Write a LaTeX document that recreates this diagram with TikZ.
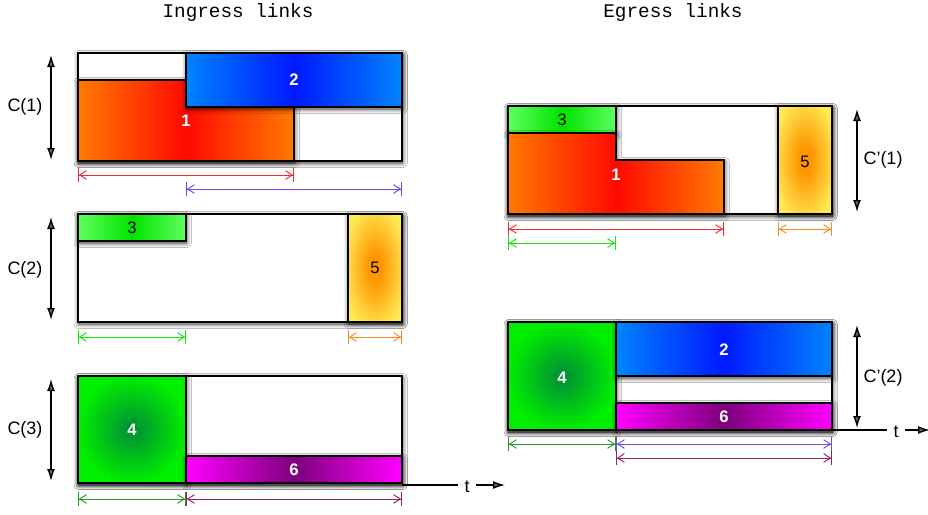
\documentclass[tikz,border=0pt]{standalone}
\usepackage{fontspec}
\setmainfont{Liberation Sans}
\newfontfamily\monofam{Liberation Mono}
\usetikzlibrary{positioning, arrows.meta, shadows.blur}

\definecolor{pktorange}{RGB}{255,122,0}
\definecolor{pktred}{RGB}{255,10,0}
\definecolor{pktsky}{RGB}{0,132,255}
\definecolor{pktblue}{RGB}{0,25,255}
\definecolor{pktlime}{RGB}{95,255,95}
\definecolor{pktgreen}{RGB}{0,228,0}
\definecolor{pktyellow}{RGB}{255,234,85}
\definecolor{pktamber}{RGB}{255,150,0}
\definecolor{pktleaf}{RGB}{0,238,0}
\definecolor{pktforest}{RGB}{0,140,55}
\definecolor{pktpink}{RGB}{255,0,255}
\definecolor{pktplum}{RGB}{125,0,125}
\definecolor{spanred}{RGB}{235,45,45}
\definecolor{spanblue}{RGB}{105,70,255}
\definecolor{spangreen}{RGB}{20,230,20}
\definecolor{spanorange}{RGB}{245,140,40}
\definecolor{spanforest}{RGB}{40,150,40}
\definecolor{spanplum}{RGB}{150,35,95}

\pgfdeclareradialshading{amberglow}{\pgfpoint{0bp}{0bp}}{color(0bp)=(pktamber); color(6bp)=(pktamber); color(30bp)=(pktyellow); color(50bp)=(pktyellow)}
\pgfdeclareradialshading{leafglow}{\pgfpoint{0bp}{0bp}}{color(0bp)=(pktforest); color(25bp)=(pktleaf); color(50bp)=(pktleaf)}

\tikzset{
  slot/.style={draw=black, line width=1pt, fill=white,
    blur shadow={shadow xshift=0.5pt, shadow yshift=-1.5pt, shadow blur radius=3.5pt, shadow opacity=80}},
  pkt/.style={draw=black, line width=1pt,
    blur shadow={shadow xshift=0.5pt, shadow yshift=-1.5pt, shadow blur radius=3.5pt, shadow opacity=80}},
  flowA/.style={pkt, left color=pktorange, right color=pktorange, middle color=pktred},
  flowB/.style={pkt, left color=pktsky, right color=pktsky, middle color=pktblue},
  flowC/.style={pkt, left color=pktlime, right color=pktlime, middle color=pktgreen},
  flowD/.style={pkt, shading=leafglow},
  flowE/.style={pkt, shading=amberglow},
  flowF/.style={pkt, left color=pktpink, right color=pktpink, middle color=pktplum},
  num/.style={font=\fontsize{12.5}{15}\selectfont\bfseries, text=white},
  numdark/.style={font=\fontsize{12.5}{15}\selectfont, text=black},
  linklabel/.style={font=\fontsize{13.5}{16}\selectfont},
  title/.style={font=\monofam\fontsize{14.5}{17}\selectfont},
  span/.style={line width=0.7pt,
    {Bar[width=10.5pt]Straight Barb[length=5pt,width=6.5pt]}-{Straight Barb[length=5pt,width=6.5pt]Bar[width=10.5pt]}},
  tall/.style={line width=1pt, {Latex[length=9pt,width=6pt]}-{Latex[length=9pt,width=6pt]}},
}

\begin{document}
\begin{tikzpicture}[x=0.75pt, y=-0.75pt]
  \useasboundingbox[fill=white] (0,0) rectangle (928,514);

  \node[title] (ingress) at (238,12) {Ingress links};
  \node[title] (egress) at (673,12) {Egress links};

  % ingress link 1
  \draw[slot] (78,53) rectangle (402,161);
  \draw[flowA] (78,80) rectangle (294,161);
  \draw[flowB] (186,53) rectangle (402,107);
  \node[num] (i1p1) at (186,121) {1};
  \node[num] (i1p2) at (294,80) {2};
  \draw[span, spanred] (78,175) -- (294,175);
  \draw[span, spanblue] (186,189) -- (402,189);
  \draw[tall] (51,55) -- (51,160);
  \node[linklabel] (c1) at (25,107) {C(1)};

  % ingress link 2
  \draw[slot] (78,214) rectangle (402,322);
  \draw[flowC] (78,214) rectangle (186,241);
  \draw[flowE] (348,214) rectangle (402,322);
  \node[numdark] (i2p3) at (132,228) {3};
  \node[numdark] (i2p5) at (375,268) {5};
  \draw[span, spangreen] (78,337) -- (186,337);
  \draw[span, spanorange] (348,337) -- (402,337);
  \draw[tall] (51,217) -- (51,320);
  \node[linklabel] (c2) at (25,270) {C(2)};

  % ingress link 3
  \draw[slot] (78,376) rectangle (402,483);
  \draw[flowD] (78,376) rectangle (186,483);
  \draw[flowF] (186,456) rectangle (402,483);
  \node[num] (i3p4) at (132,430) {4};
  \node[num] (i3p6) at (294,470) {6};
  \draw[span, spanforest] (78,499) -- (186,499);
  \draw[span, spanplum] (186,499) -- (402,499);
  \draw[tall] (51,379) -- (51,481);
  \node[linklabel] (c3) at (25,430) {C(3)};
  \coordinate (i3end) at (402,485);
  \node[linklabel, inner sep=5pt] (ti) at (467,487) {t};
  \coordinate (tiend) at (505,485);
  \draw[line width=0.8pt] (i3end) -- (i3end -| ti.west);
  \draw[line width=1pt, -{Latex[length=9pt,width=6pt]}] (i3end -| ti.east) -- (tiend);

  % egress link 1
  \draw[slot] (508,106) rectangle (832,214);
  \draw[flowE] (778,106) rectangle (832,214);
  \draw[flowC] (508,106) rectangle (616,133);
  \draw[flowA] (508,133) -- (616,133) -- (616,160) -- (724,160) -- (724,214) -- (508,214) -- cycle;
  \node[numdark] (e1p3) at (562,120) {3};
  \node[num] (e1p1) at (616,175) {1};
  \node[numdark] (e1p5) at (805,162) {5};
  \draw[span, spanred] (508,229) -- (724,229);
  \draw[span, spanorange] (778,229) -- (832,229);
  \draw[span, spangreen] (508,243) -- (616,243);
  \draw[tall] (857,109) -- (857,212);
  \node[linklabel] (d1) at (883,160) {C'(1)};

  % egress link 2
  \draw[slot] (508,322) rectangle (832,430);
  \draw[flowD] (508,322) rectangle (616,430);
  \draw[flowB] (616,322) rectangle (832,376);
  \draw[flowF] (616,403) rectangle (832,430);
  \node[num] (e2p4) at (562,378) {4};
  \node[num] (e2p2) at (724,350) {2};
  \node[num] (e2p6) at (724,417) {6};
  \draw[span, spanforest] (508,444) -- (616,444);
  \draw[span, spanblue] (616,444) -- (832,444);
  \draw[span, spanplum] (616,458) -- (832,458);
  \draw[tall] (857,325) -- (857,428);
  \node[linklabel] (d2) at (883,378) {C'(2)};
  \coordinate (e2end) at (832,430);
  \node[linklabel, inner sep=5pt] (te) at (896,432) {t};
  \coordinate (teend) at (930,430);
  \draw[line width=0.8pt] (e2end) -- (e2end -| te.west);
  \draw[line width=1pt, -{Latex[length=9pt,width=6pt]}] (e2end -| te.east) -- (teend);
\end{tikzpicture}
\end{document}
